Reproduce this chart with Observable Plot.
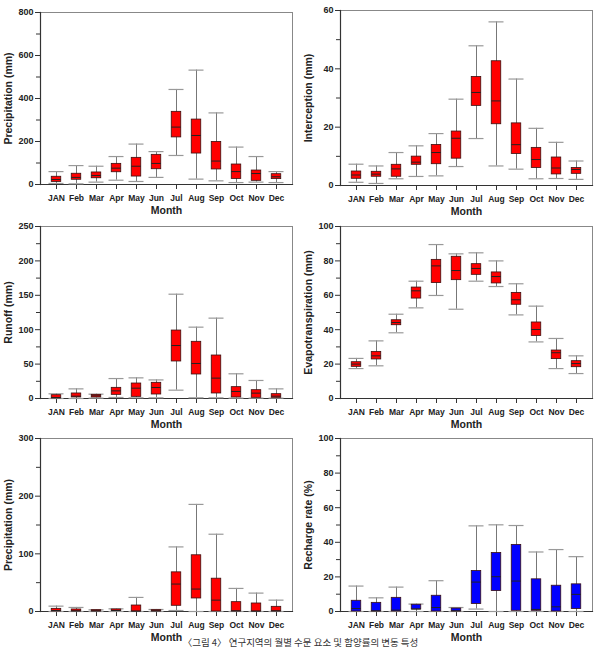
<!DOCTYPE html>
<html>
<head>
<meta charset="utf-8">
<script src="https://cdn.jsdelivr.net/npm/d3@7"></script>
<script src="https://cdn.jsdelivr.net/npm/@observablehq/plot@0.6"></script>
<style>
  html, body { margin: 0; padding: 0; background: #fff; }
  #root { position: relative; width: 601px; height: 649px; overflow: hidden; background: #fff; }
  .panel { position: absolute; }
  .panel svg { overflow: visible; }
  #caption { position: absolute; left: 0; width: 601px; top: 636px; height: 12px; line-height: 12px; text-align: center;
    font-family: "Noto Sans CJK KR", sans-serif; font-size: 9.5px; color: #333; white-space: nowrap; }
</style>
</head>
<body>
<div id="root"></div>
<script>
// Month categories
const months = ["JAN", "Feb", "Mar", "Apr", "May", "Jun", "Jul", "Aug", "Sep", "Oct", "Nov", "Dec"];

// Each row: [min, q1, median, q3, max]
const precipitation = [
  [5, 12, 23, 36, 60], [3, 22, 33, 50, 88], [11, 29, 42, 56, 85], [20, 57, 76, 96, 130],
  [14, 37, 85, 124, 188], [33, 71, 98, 138, 153], [135, 219, 267, 338, 442], [25, 144, 228, 302, 532],
  [17, 70, 109, 198, 333], [9, 26, 60, 93, 174], [11, 17, 51, 65, 130], [9, 25, 36, 48, 60]
];
const interception = [
  [1.1, 2.3, 3.6, 4.8, 7.3], [0.7, 3.0, 3.9, 4.7, 6.7], [2.3, 3.0, 5.7, 7.1, 11.3], [3.1, 7.1, 8.0, 9.9, 13.6],
  [3.3, 7.3, 11.3, 13.9, 17.8], [6.5, 9.2, 16.2, 18.5, 29.6], [16.1, 27.3, 31.9, 37.2, 47.9], [6.7, 21.0, 29.0, 42.6, 56.1],
  [5.6, 10.8, 14.0, 21.3, 36.5], [2.3, 6.0, 8.9, 12.9, 19.6], [2.4, 3.8, 6.0, 9.6, 14.8], [2.1, 4.0, 5.5, 6.0, 8.4]
];
const runoff = [
  [0, 0, 1.5, 4.8, 6.8], [0, 1.5, 3.4, 7.3, 14], [0.5, 1.5, 3.9, 5.3, 6.3], [1.5, 5.3, 11.1, 15.5, 29],
  [1, 2.4, 15, 21.8, 30], [1, 5.8, 16, 22.8, 27], [12.1, 53.8, 77, 98.8, 151.6], [1, 34.9, 50.9, 82.4, 103.7],
  [1, 7.3, 29.6, 62.5, 116.8], [0.5, 1.5, 10.2, 16.5, 35.9], [0.5, 1, 7.8, 12.1, 26.2], [0.5, 1, 3.4, 6.3, 14]
];
const evapotranspiration = [
  [17.4, 18.4, 20.0, 21.1, 23.3], [19.0, 22.7, 24.8, 27.1, 33.5], [38.2, 42.6, 44.2, 45.5, 49.0], [52.7, 58.1, 62.6, 64.5, 68.2],
  [59.9, 67.1, 77.1, 80.6, 89.5], [51.9, 68.8, 74.4, 82.4, 84.1], [68.2, 71.9, 75.6, 78.1, 84.7], [65.1, 66.9, 70.9, 73.3, 80.0],
  [48.6, 54.5, 57.4, 61.4, 66.7], [32.9, 36.4, 40.1, 44.2, 53.7], [17.4, 22.9, 26.6, 27.9, 34.9], [14.5, 18.2, 20.3, 21.7, 24.8]
];
const rechargePrecip = [
  [0, 0, 1.7, 4.6, 9.3], [0, 0, 1.2, 3.5, 7], [0, 0, 1.2, 2.3, 2.9], [0, 0.6, 1.7, 3.5, 4.6],
  [0, 0, 0.6, 10.4, 24.4], [0, 0, 1.2, 2.3, 3.5], [1.7, 9.9, 47.6, 67.9, 112], [0, 22.6, 38.9, 97.5, 185.7],
  [0, 0, 19.7, 56.9, 134], [0, 0, 1.2, 16.2, 40], [0, 0, 0.6, 13.9, 31.9], [0, 0, 1.2, 8.1, 19.7]
];
const rechargeRate = [
  [0, 0, 1.7, 6.2, 14.7], [0, 0, 0.4, 5.0, 7.9], [0, 0, 0.8, 7.9, 14.1], [0, 1.2, 1.4, 3.9, 4.3],
  [0, 0, 2.3, 9.1, 17.8], [0, 0, 0.4, 1.7, 2.3], [1.4, 4.3, 17.0, 23.4, 49.5], [0, 11.8, 20.1, 33.8, 50.1],
  [0, 0.4, 17.6, 38.5, 49.7], [0, 0.4, 1.2, 18.6, 34.4], [0, 0, 2.7, 14.9, 35.8], [0, 1.4, 9.9, 15.7, 31.7]
];

// Y-axis tick values
const ticksPrecip = [0, 200, 400, 600, 800];
const minorPrecip = [100, 300, 500, 700];
const ticksInterc = [0, 20, 40, 60];
const minorInterc = [10, 30, 50];
const ticksRunoff = [0, 50, 100, 150, 200, 250];
const minorRunoff = [25, 75, 125, 175, 225];
const ticks100 = [0, 20, 40, 60, 80, 100];
const minor100 = [10, 30, 50, 70, 90];
const ticksRP = [0, 100, 200, 300];
const minorRP = [50, 150, 250];

const root = document.getElementById("root");
const FONT = "'Liberation Sans', Arial, sans-serif";

function panel({values, ymax, major, minor, label, fill, left, top, width, mr, mt, frameH}) {
  const rows = months.map((m, i) => ({
    month: m, min: values[i][0], q1: values[i][1], med: values[i][2], q3: values[i][3], max: values[i][4]
  }));
  const mb = 36;
  const chart = Plot.plot({
    width, height: mt + frameH + mb,
    marginLeft: 40, marginRight: mr, marginTop: mt, marginBottom: mb,
    style: {fontFamily: FONT, fontWeight: "bold", fontSize: "8.5px",
      color: "#222", background: "transparent", overflow: "visible"},
    x: {type: "band", domain: months, paddingInner: 0, paddingOuter: 0.15},
    y: {domain: [0, ymax], nice: false},
    marks: [
      Plot.frame({stroke: "#888", strokeWidth: 1}),
      Plot.frame({anchor: "left", stroke: "#333", strokeWidth: 1.2}),
      Plot.frame({anchor: "bottom", stroke: "#333", strokeWidth: 1.2}),
      Plot.axisY(minor, {tickSize: 4, tickFormat: () => "", label: null, stroke: "#333"}),
      Plot.axisY(major, {tickSize: 5, tickPadding: 2, fontSize: 9, label, labelAnchor: "center", labelOffset: 36, labelArrow: "none", stroke: "#333"}),
      Plot.axisX({tickSize: 5, tickPadding: 5, fontSize: 8.5, label: "Month", labelAnchor: "center", labelOffset: 29, labelArrow: "none", stroke: "#333"}),
      Plot.ruleX(rows, {x: "month", y1: "min", y2: "max", stroke: "#777", strokeWidth: 1}),
      Plot.tickY(rows, {x: "month", y: "max", stroke: "#999", strokeWidth: 1.2, insetLeft: 2.5, insetRight: 2.5}),
      Plot.tickY(rows, {x: "month", y: "min", stroke: "#999", strokeWidth: 1.2, insetLeft: 2.5, insetRight: 2.5}),
      Plot.barY(rows, {x: "month", y1: "q1", y2: "q3", fill, stroke: "#3a1010", strokeWidth: 0.8, insetLeft: 5.25, insetRight: 5.25}),
      Plot.tickY(rows, {x: "month", y: "med", stroke: "#222", strokeWidth: 1, insetLeft: 5.25, insetRight: 5.25})
    ]
  });
  d3.select(chart).selectAll('[aria-label="y-axis label"] text').style("font-size", "10.5px");
  d3.select(chart).selectAll('[aria-label="x-axis label"] text').style("font-size", "10.5px");
  const div = document.createElement("div");
  div.className = "panel";
  div.style.left = left + "px";
  div.style.top = (top - mt) + "px";
  div.appendChild(chart);
  root.appendChild(div);
}

panel({values: precipitation, ymax: 800, major: ticksPrecip, minor: minorPrecip, label: "Precipitation (mm)", fill: "#ff0000",
  left: 0, top: 12, width: 300, mr: 8, mt: 12, frameH: 172});
panel({values: interception, ymax: 60, major: ticksInterc, minor: minorInterc, label: "Interception (mm)", fill: "#ff0000",
  left: 300, top: 10, width: 301, mr: 9, mt: 12, frameH: 175});
panel({values: runoff, ymax: 250, major: ticksRunoff, minor: minorRunoff, label: "Runoff (mm)", fill: "#ff0000",
  left: 0, top: 226, width: 300, mr: 8, mt: 12, frameH: 172});
panel({values: evapotranspiration, ymax: 100, major: ticks100, minor: minor100, label: "Evapotranspiration (mm)", fill: "#ff0000",
  left: 300, top: 226, width: 301, mr: 9, mt: 12, frameH: 172});
panel({values: rechargePrecip, ymax: 300, major: ticksRP, minor: minorRP, label: "Precipitation (mm)", fill: "#ff0000",
  left: 0, top: 438, width: 300, mr: 8, mt: 12, frameH: 173});
panel({values: rechargeRate, ymax: 100, major: ticks100, minor: minor100, label: "Recharge rate (%)", fill: "#0000ff",
  left: 300, top: 438, width: 301, mr: 9, mt: 12, frameH: 173});

const cap = document.createElement("div");
cap.id = "caption";
cap.textContent = "〈그림 4〉 연구지역의 월별 수문 요소 및 함양률의 변동 특성";
root.appendChild(cap);
</script>
</body>
</html>
